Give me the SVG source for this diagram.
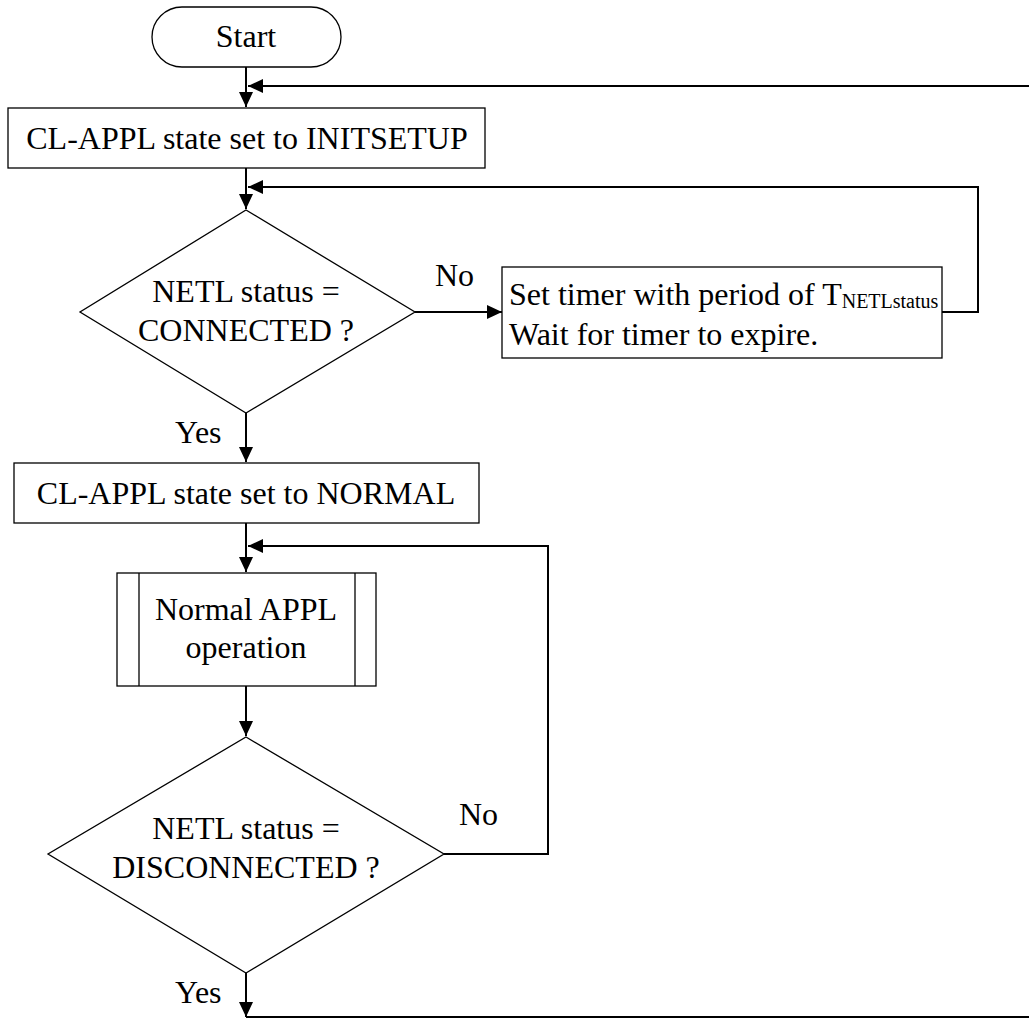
<svg xmlns="http://www.w3.org/2000/svg" width="1029" height="1023" viewBox="0 0 1029 1023">
<style>
.shape{fill:#fff;stroke:#000;stroke-width:1.3}
.inner{fill:none;stroke:#000;stroke-width:1.3}
.conn{fill:none;stroke:#000;stroke-width:2}
text{font-family:"Liberation Serif","Times New Roman",serif;font-size:32px;fill:#000}
.c{text-anchor:middle}
.sub{font-size:20px}
</style>
<defs>
<marker id="arr" markerUnits="userSpaceOnUse" markerWidth="16" markerHeight="14" refX="15" refY="7" orient="auto">
<path d="M0,0 L15,7 L0,14 z" fill="#000"/>
</marker>
</defs>
<rect width="1029" height="1023" fill="#fff"/>
<g id="connectors">
<line class="conn" x1="246" y1="67" x2="246" y2="107" marker-end="url(#arr)"/>
<line class="conn" x1="1029" y1="86" x2="248" y2="86" marker-end="url(#arr)"/>
<line class="conn" x1="246" y1="168" x2="246" y2="209" marker-end="url(#arr)"/>
<polyline class="conn" points="942,312 978,312 978,187 248,187" marker-end="url(#arr)"/>
<line class="conn" x1="415" y1="312" x2="502" y2="312" marker-end="url(#arr)"/>
<line class="conn" x1="246" y1="413" x2="246" y2="462" marker-end="url(#arr)"/>
<line class="conn" x1="246" y1="523" x2="246" y2="572" marker-end="url(#arr)"/>
<polyline class="conn" points="444,854 548,854 548,546 248,546" marker-end="url(#arr)"/>
<line class="conn" x1="246" y1="686" x2="246" y2="736" marker-end="url(#arr)"/>
<line class="conn" x1="246" y1="973" x2="246" y2="1017" marker-end="url(#arr)"/>
<line class="conn" x1="246" y1="1017" x2="1029" y2="1017"/>
<text x="435" y="286">No</text>
<text x="175" y="443">Yes</text>
<text x="459" y="825">No</text>
<text x="175" y="1003">Yes</text>
</g>
<g id="start">
<rect class="shape" x="152" y="7" width="189" height="60" rx="30" ry="30"/>
<text class="c" x="246" y="47">Start</text>
</g>
<g id="initsetup">
<rect class="shape" x="8" y="108" width="477" height="60"/>
<text class="c" x="247" y="149">CL-APPL state set to INITSETUP</text>
</g>
<g id="connected">
<polygon class="shape" points="246,210 415,312 246,413 80,312"/>
<text class="c" x="246" y="302">NETL status =</text>
<text class="c" x="246" y="341">CONNECTED ?</text>
</g>
<g id="timer">
<rect class="shape" x="502" y="267" width="440" height="91"/>
<text x="509" y="305">Set timer with period of T<tspan class="sub" dy="3">NETLstatus</tspan></text>
<text x="509" y="345">Wait for timer to expire.</text>
</g>
<g id="normal">
<rect class="shape" x="14" y="463" width="465" height="60"/>
<text class="c" x="246" y="504">CL-APPL state set to NORMAL</text>
</g>
<g id="operation">
<rect class="shape" x="117" y="573" width="259" height="113"/>
<line class="inner" x1="139" y1="573" x2="139" y2="686"/>
<line class="inner" x1="355" y1="573" x2="355" y2="686"/>
<text class="c" x="246" y="620">Normal APPL</text>
<text class="c" x="246" y="658">operation</text>
</g>
<g id="disconnected">
<polygon class="shape" points="246,737 444,854 246,973 48,854"/>
<text class="c" x="246" y="839">NETL status =</text>
<text class="c" x="246" y="878">DISCONNECTED ?</text>
</g>
</svg>
